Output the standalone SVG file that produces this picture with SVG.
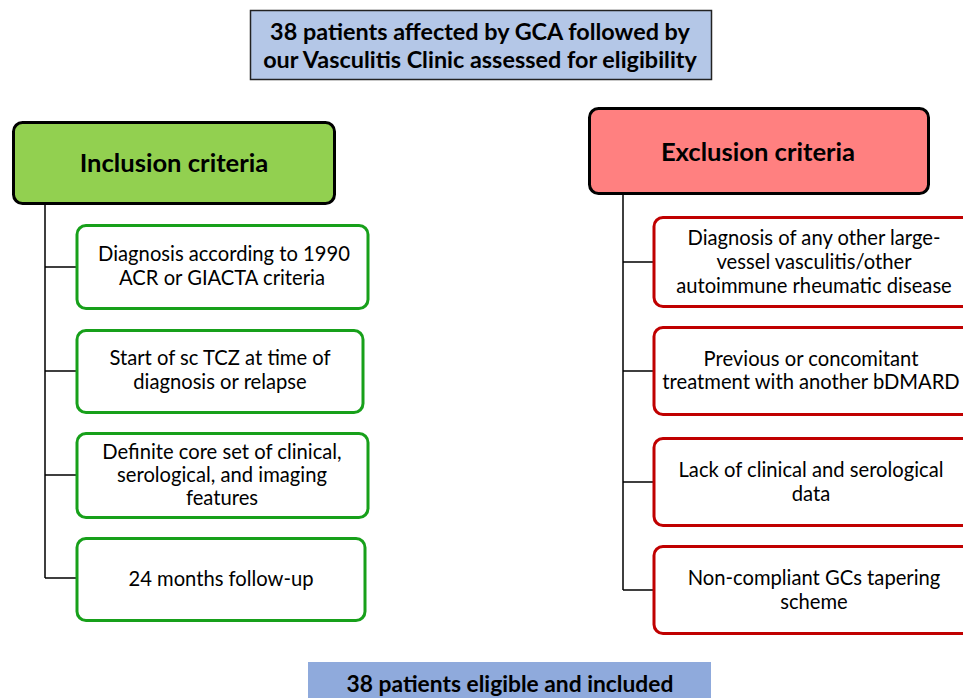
<svg xmlns="http://www.w3.org/2000/svg" width="963" height="698" viewBox="0 0 963 698">
<style>
text{font-family:Lato,"Liberation Sans",sans-serif;fill:#000;text-anchor:middle;dominant-baseline:central}
.b{font-weight:bold}
.t{font-size:20.2px}
.h{font-size:25.6px;font-weight:bold}
.inc{fill:#fff;stroke:#17a01a;stroke-width:3}
.exc{fill:#fff;stroke:#c00000;stroke-width:3}
.conn{stroke:#000;stroke-width:1.5;fill:none}
</style>
<rect width="963" height="698" fill="#fff"/>
<g id="top">
<rect x="250.5" y="10.5" width="461" height="69" fill="#b4c7e7" stroke="#222" stroke-width="1.5"/>
<text class="b" x="480" y="31" font-size="23.4">38 patients affected by GCA followed by</text>
<text class="b" x="480" y="59" font-size="23.4">our Vasculitis Clinic assessed for eligibility</text>
</g>
<g id="connectors">
<path class="conn" d="M45 204V578M45 267H76M45 371H76M45 475H76M45 578H76"/>
<path class="conn" d="M623 194V590M623 262H653M623 371H653M623 482H653M623 590H653"/>
</g>
<g id="inclusion">
<rect x="13.5" y="122.5" width="321" height="81" rx="9" fill="#92d050" stroke="#000" stroke-width="3"/>
<text class="h" x="174" y="162">Inclusion criteria</text>
</g>
<g id="exclusion">
<rect x="589.5" y="108.5" width="339" height="85" rx="9" fill="#ff8080" stroke="#000" stroke-width="3"/>
<text class="h" x="758" y="151">Exclusion criteria</text>
</g>
<g id="inc1">
<rect class="inc" x="77" y="225.5" width="291" height="83" rx="9"/>
<text class="t" x="224" y="253">Diagnosis according to 1990</text>
<text class="t" x="222" y="277">ACR or GIACTA criteria</text>
</g>
<g id="inc2">
<rect class="inc" x="77" y="330.5" width="286" height="82" rx="9"/>
<text class="t" x="220" y="357">Start of sc TCZ at time of</text>
<text class="t" x="220" y="381">diagnosis or relapse</text>
</g>
<g id="inc3">
<rect class="inc" x="77" y="433.5" width="291" height="84" rx="9"/>
<text class="t" x="222" y="451">Definite core set of clinical,</text>
<text class="t" x="222" y="474">serological, and imaging</text>
<text class="t" x="222" y="497">features</text>
</g>
<g id="inc4">
<rect class="inc" x="77" y="538.5" width="288" height="82" rx="9"/>
<text class="t" x="221" y="578">24 months follow-up</text>
</g>
<g id="exc1">
<rect class="exc" x="654" y="217.5" width="320" height="89" rx="9"/>
<text class="t" x="814" y="237">Diagnosis of any other large-</text>
<text class="t" x="814" y="261">vessel vasculitis/other</text>
<text class="t" x="814" y="285">autoimmune rheumatic disease</text>
</g>
<g id="exc2">
<rect class="exc" x="654" y="327.5" width="320" height="87" rx="9"/>
<text class="t" x="811" y="358">Previous or concomitant</text>
<text class="t" x="811" y="381">treatment with another bDMARD</text>
</g>
<g id="exc3">
<rect class="exc" x="654" y="438.5" width="320" height="87" rx="9"/>
<text class="t" x="811" y="469">Lack of clinical and serological</text>
<text class="t" x="811" y="493">data</text>
</g>
<g id="exc4">
<rect class="exc" x="654" y="546.5" width="320" height="87" rx="9"/>
<text class="t" x="814" y="577">Non-compliant GCs tapering</text>
<text class="t" x="814" y="601">scheme</text>
</g>
<g id="bottom">
<rect x="308" y="662" width="403" height="40" fill="#8faadc"/>
<text class="b" x="510" y="683" font-size="22.8">38 patients eligible and included</text>
</g>
</svg>
